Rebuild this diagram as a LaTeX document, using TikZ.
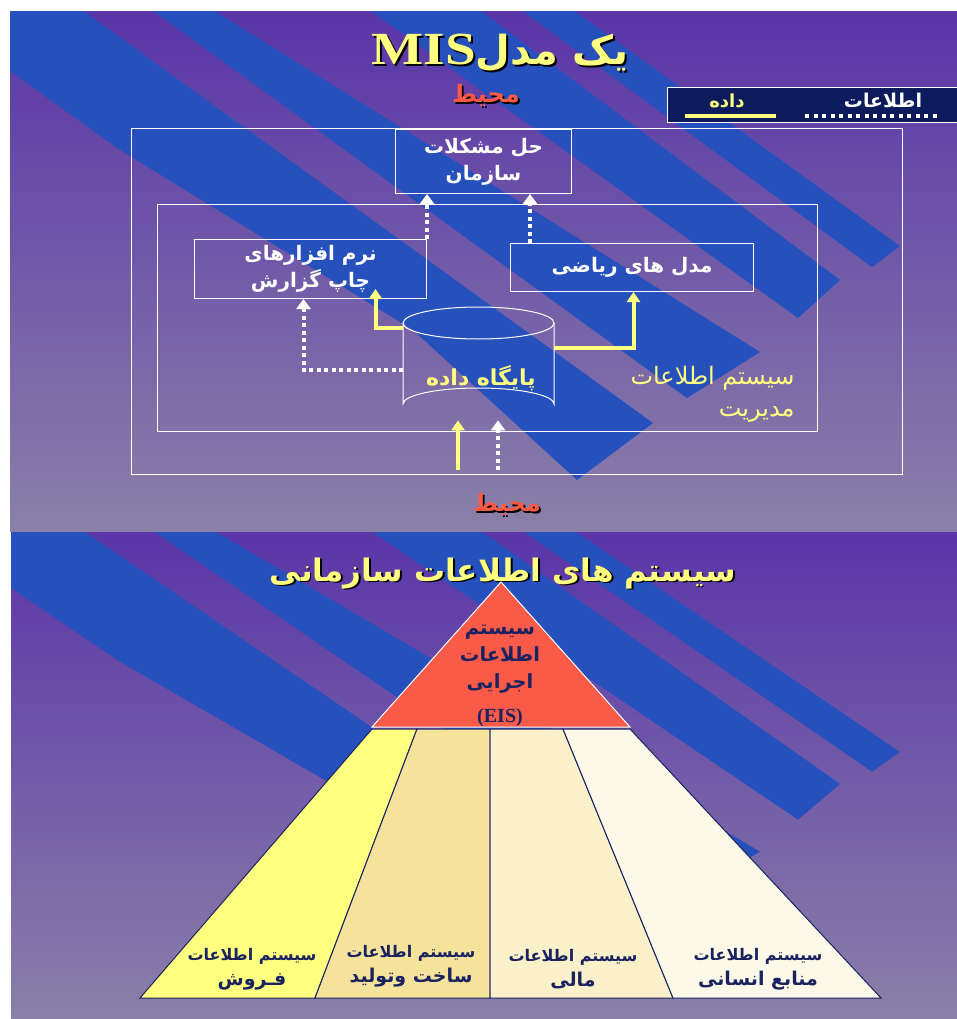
\documentclass[tikz,border=0pt]{standalone}
\usepackage{fontspec}
\usepackage{graphicx}
\setmainfont{Liberation Serif}
\newfontfamily\fa[Script=Arabic]{DejaVu Sans}
\TeXXeTstate=1
\usetikzlibrary{arrows.meta,calc}
\definecolor{bgtop}{HTML}{5A35A8}
\definecolor{bgbot}{HTML}{8A80A8}
\definecolor{stripe}{HTML}{2650BC}
\definecolor{ttlyellow}{HTML}{FFFF80}
\definecolor{envred}{HTML}{FF5A46}
\definecolor{legbg}{HTML}{0D1B5C}
\definecolor{navy}{HTML}{1A2260}
\definecolor{eisred}{HTML}{FA5A48}
\definecolor{secA}{HTML}{FFFF80}
\definecolor{secB}{HTML}{F5E39B}
\definecolor{secC}{HTML}{FAF0C9}
\definecolor{secD}{HTML}{FDF9E8}
\newcommand\shd[2]{\leavevmode\rlap{\kern1.8pt\raisebox{-1.8pt}{\textcolor{black}{#2}}}\textcolor{#1}{#2}}
\newcommand\stripefill{%
  \fill[stripe] (13,-40) -- (653,423) -- (577,480) -- (413,330) -- (120,150) -- (-40,35) -- (-40,-40) -- cycle;
  \fill[stripe] (83,-40) -- (133,-40) -- (760,352) -- (687,398) -- cycle;
  \fill[stripe] (300,-40) -- (413,-40) -- (840,280) -- (798,318) -- cycle;
  \fill[stripe] (453,-40) -- (504,-40) -- (900,246) -- (872,267) -- cycle;
}
\tikzset{
  frame/.style={draw=white, line width=1pt, inner sep=0pt},
  box/.style={frame, anchor=north west, align=center, text=white,
    font=\fa\bfseries\fontsize{20}{27}\selectfont},
  info/.style={draw=white, line width=4pt, dash pattern=on 4pt off 3.5pt,
    -{Triangle[width=14pt,length=10pt]}},
  data/.style={draw=ttlyellow, line width=4pt, -{Triangle[width=13pt,length=10pt]}},
  sectext/.style={text=navy, align=center, font=\fa\bfseries\fontsize{16}{25}\selectfont},
  section/.style={draw=navy, line width=1pt},
}
\newcommand\secsub[1]{{\fontsize{19}{25}\selectfont\beginR #1\endR}}
\begin{document}
\begin{tikzpicture}[x=1pt,y=-1pt]
\useasboundingbox (0,0) rectangle (957,1019);
\fill[white] (0,0) rectangle (957,1019);
% ---------- top slide background
\begin{scope}
  \clip (10,12) rectangle (957,531);
  \shade[top color=bgtop, bottom color=bgbot] (10,12) rectangle (957,531);
  \stripefill
\end{scope}
% ---------- bottom slide background
\begin{scope}
  \clip (11,532) rectangle (957,1019);
  \shade[top color=bgtop, bottom color=bgbot] (11,532) rectangle (957,1019);
  \begin{scope}[shift={(0,532)}, yscale=0.94, shift={(0,-12)}]
    \stripefill
  \end{scope}
\end{scope}

% ================= TOP SLIDE =================
\node (title) at (500,54) {\shd{ttlyellow}{\bfseries\fontsize{46}{46}\selectfont\scalebox{1.2}[1]{MIS}\fa\fontsize{40}{40}\selectfont\beginR یک مدل\endR}};
\node (envtop) at (486,96) {\shd{envred}{\fa\bfseries\fontsize{24}{24}\selectfont\beginR محیط\endR}};

% legend
\node[fill=legbg, draw=white, line width=1pt, anchor=north west, minimum width=300pt, minimum height=35pt, inner sep=0pt] (legend) at (667,87) {};
\node[text=ttlyellow, font=\fa\bfseries\fontsize{18}{18}\selectfont] (legdata) at (727,101) {\beginR داده\endR};
\node[text=white, font=\fa\bfseries\fontsize{19}{19}\selectfont] (leginfo) at (883,100) {\beginR اطلاعات\endR};
\coordinate (ld1) at (685,116); \coordinate (ld2) at (776,116);
\coordinate (li1) at (805,116); \coordinate (li2) at (940,116);
\draw[ttlyellow, line width=3.5pt] (ld1) -- (ld2);
\draw[white, line width=3.5pt, dash pattern=on 4pt off 4.5pt] (li1) -- (li2);

% frames
\node[frame, anchor=north west, minimum width=771pt, minimum height=346pt] (env) at (131,128) {};
\node[frame, anchor=north west, minimum width=660pt, minimum height=227pt] (mis) at (157,204) {};

% boxes
\node[box, minimum width=176pt, minimum height=64pt] (hal) at (395,129) {\beginR حل مشکلات\endR\\\beginR سازمان\endR};
\node[box, minimum width=232pt, minimum height=59pt] (narm) at (194,239) {\beginR نرم افزارهای\endR\\\beginR چاپ گزارش\endR};
\node[box, minimum width=243pt, minimum height=48pt] (model) at (510,243) {\beginR مدل های ریاضی\endR};

% database cylinder
\node[inner sep=0pt, minimum width=151pt, minimum height=113pt, anchor=north west] (cyl) at (403,307) {};
\draw[white, line width=1pt] (403,323) -- (403,404) arc[start angle=180, end angle=360, x radius=75.5, y radius=16] -- (554,323);
\draw[white, line width=1pt] (478.5,323) ellipse [x radius=75.5, y radius=16];
\node[text=ttlyellow, font=\fa\bfseries\fontsize{22}{22}\selectfont] (dbtext) at (481,378) {\beginR پایگاه داده\endR};

% MIS label
\node[align=right, anchor=east, text=ttlyellow, font=\fa\fontsize{24}{32}\selectfont] (mislabel) at (798,394) {\beginR سیستم اطلاعات\endR\\\beginR مدیریت\endR};

% connectors
\draw[info] (narm.north east) -- (narm.north east |- hal.south);
\draw[info] ([xshift=20pt]model.north west) -- ([xshift=20pt]model.north west |- hal.south);
\draw[data, shorten >=-10pt] ([yshift=-21pt]cyl.north west) -| ([xshift=65pt]narm.south);
\draw[data] ([yshift=-41pt]cyl.north east) -| ([xshift=1.5pt]model.south);
\draw[info] ([yshift=-63pt]cyl.north west) -| ([xshift=-7pt]narm.south);
\coordinate (ybot) at (458,470);
\coordinate (wbot) at (498,470);
\draw[data] (ybot) -- (ybot |- cyl.south);
\draw[info] (wbot) -- (wbot |- cyl.south);

\node (envbot) at (507,505) {\shd{envred}{\fa\bfseries\fontsize{24}{24}\selectfont\beginR محیط\endR}};

% ================= BOTTOM SLIDE =================
\node (title2) at (503,574) {\shd{ttlyellow}{\fa\bfseries\fontsize{31}{31}\selectfont\beginR سیستم های اطلاعات سازمانی\endR}};

\coordinate (apex) at (501,582);
\coordinate (tl) at (372,727);
\coordinate (tr) at (630,727);
\fill[eisred, draw=white, line width=1pt] (apex) -- (tr) -- (tl) -- cycle;
\node[text=navy, align=center, font=\fa\bfseries\fontsize{19.5}{27}\selectfont] (eis) at (500,676)
  {\beginR سیستم\endR\\\beginR اطلاعات\endR\\\beginR اجرایی\endR\\[7pt]{\rmfamily\bfseries\fontsize{20}{20}\selectfont (EIS)}};

\coordinate (t0) at (372,729); \coordinate (t1) at (417,729); \coordinate (t2) at (490,729);
\coordinate (t3) at (563,729); \coordinate (t4) at (630,729);
\coordinate (b0) at (140,998); \coordinate (b1) at (315,998); \coordinate (b2) at (490,998);
\coordinate (b3) at (673,998); \coordinate (b4) at (881,998);
\filldraw[section, fill=secA] (t0) -- (t1) -- (b1) -- (b0) -- cycle;
\filldraw[section, fill=secB] (t1) -- (t2) -- (b2) -- (b1) -- cycle;
\filldraw[section, fill=secC] (t2) -- (t3) -- (b3) -- (b2) -- cycle;
\filldraw[section, fill=secD] (t3) -- (t4) -- (b4) -- (b3) -- cycle;

\node[sectext] (sales) at (252,969) {\beginR سیستم اطلاعات\endR\\\secsub{فـروش}};
\node[sectext] (prod) at (411,966) {\beginR سیستم اطلاعات\endR\\\secsub{ساخت وتولید}};
\node[sectext] (fin) at (573,969) {\beginR سیستم اطلاعات\endR\\\secsub{مالی}};
\node[sectext] (hr) at (758,969) {\beginR سیستم اطلاعات\endR\\\secsub{منابع انسانی}};
\end{tikzpicture}
\end{document}
